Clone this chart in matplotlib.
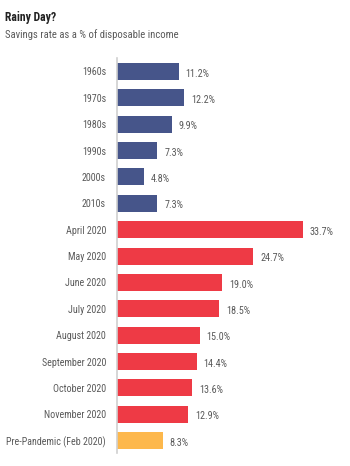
import matplotlib
matplotlib.use('Agg')
import matplotlib.pyplot as plt

plt.rcParams['font.family'] = ['Roboto Condensed', 'Liberation Sans Narrow', 'Roboto', 'DejaVu Sans']

categories = ['1960s', '1970s', '1980s', '1990s', '2000s', '2010s',
              'April 2020', 'May 2020', 'June 2020', 'July 2020', 'August 2020',
              'September 2020', 'October 2020', 'November 2020',
              'Pre-Pandemic (Feb 2020)']
rates = [11.2, 12.2, 9.9, 7.3, 4.8, 7.3,
         33.7, 24.7, 19.0, 18.5, 15.0,
         14.4, 13.6, 12.9,
         8.3]
groups = ['decade'] * 6 + ['2020'] * 8 + ['pre']

colors = {'decade': '#46558a', '2020': '#ee3a45', 'pre': '#fdb84c'}

fig = plt.figure(figsize=(3.5, 4.66), dpi=100)
ax = fig.add_axes([117 / 350, 1 - 453 / 466, 1 - 117 / 350, (453 - 58) / 466])

ypos = list(range(len(categories)))
ax.barh(ypos, rates, height=0.645, color=[colors[g] for g in groups])

for y, v in zip(ypos, rates):
    ax.text(v + 1.25, y + 0.08, '%.1f%%' % v, va='center', ha='left',
            fontsize=7.3, color='#5a5a5a')

ax.set_yticks(ypos)
ax.set_yticklabels(categories, fontsize=7.2, color='#5a5a5a')
ax.tick_params(axis='y', length=0, pad=8)
ax.set_xticks([])
ax.set_xlim(0, 42.2)
ax.set_ylim(14.47, -0.51)
for s in ['top', 'right', 'bottom']:
    ax.spines[s].set_visible(False)
ax.spines['left'].set_color('#d0d0d0')
ax.spines['left'].set_linewidth(1.2)

fig.text(5 / 350, 1 - 17 / 466, 'Rainy Day?', fontsize=8.5, fontweight='bold',
         color='#222222', va='center', ha='left')
fig.text(5 / 350, 1 - 35 / 466, 'Savings rate as a % of disposable income',
         fontsize=7.7, color='#5a5a5a', va='center', ha='left')

fig.savefig('out.png', dpi=100)
